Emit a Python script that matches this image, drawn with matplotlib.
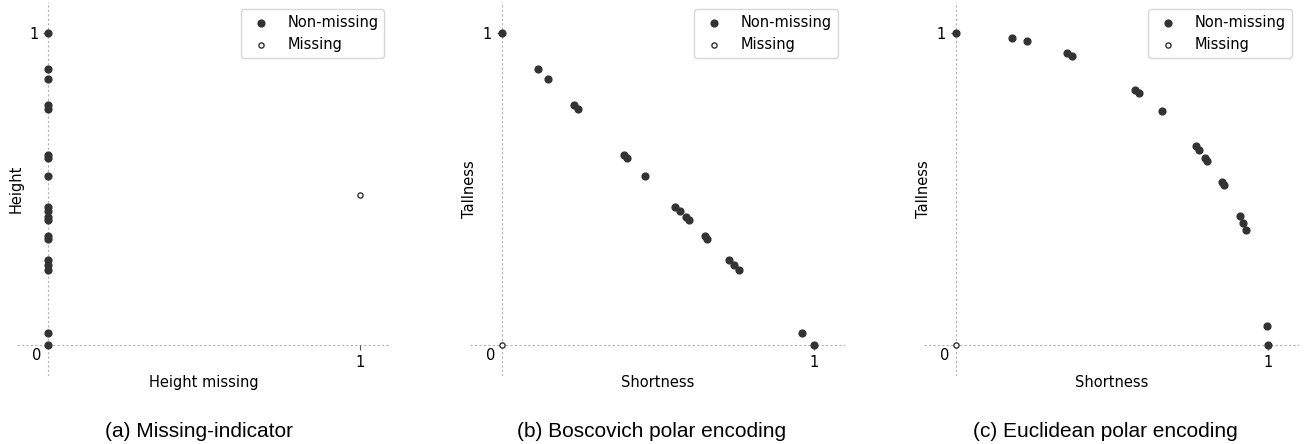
import matplotlib
matplotlib.use("Agg")
import matplotlib.pyplot as plt

# height values (one per person)
height = [1.0, 0.884, 0.852, 0.768, 0.755, 0.608, 0.599, 0.541, 0.443, 0.429,
          0.409, 0.401, 0.349, 0.341, 0.272, 0.256, 0.240, 0.039, 0.0]
height_missing = [0] * len(height)
miss_a = [1.0]
miss_a_h = [0.481]

# Boscovich polar encoding
bosc_short = [0.0, 0.116, 0.148, 0.232, 0.245, 0.392, 0.401, 0.459, 0.557, 0.571,
              0.591, 0.599, 0.651, 0.659, 0.728, 0.744, 0.760, 0.961, 1.0]
bosc_tall = [1.0, 0.884, 0.852, 0.768, 0.755, 0.608, 0.599, 0.541, 0.443, 0.429,
             0.409, 0.401, 0.349, 0.341, 0.272, 0.256, 0.240, 0.039, 0.0]

# Euclidean polar encoding
eucl_short = [0.0, 0.181, 0.230, 0.356, 0.374, 0.576, 0.588, 0.661, 0.769, 0.781,
              0.800, 0.807, 0.853, 0.859, 0.910, 0.921, 0.931, 0.998, 1.0]
eucl_tall = [1.0, 0.984, 0.973, 0.935, 0.927, 0.816, 0.809, 0.750, 0.639, 0.624,
             0.599, 0.590, 0.521, 0.513, 0.414, 0.392, 0.369, 0.061, 0.0]

miss_bc = [0.0]  # missing rows sit at the origin in (b) and (c)

panels = [
    (height_missing, height, miss_a, miss_a_h, 'Height missing', 'Height', '(a) Missing-indicator'),
    (bosc_short, bosc_tall, miss_bc, miss_bc, 'Shortness', 'Tallness', '(b) Boscovich polar encoding'),
    (eucl_short, eucl_tall, miss_bc, miss_bc, 'Shortness', 'Tallness', '(c) Euclidean polar encoding'),
]

plt.rcParams['font.family'] = 'DejaVu Sans'
plt.rcParams['font.size'] = 10.5
dot_color = '#333333'

fig = plt.figure(figsize=(13.08, 4.44), dpi=100)
lefts = [0.01307, 0.3597, 0.7068]
cap_x = [0.1518, 0.4985, 0.8452]

for i, (xs, ys, mx, my, xl, yl, cap) in enumerate(panels):
    ax = fig.add_axes([lefts[i], 0.1527, 0.28624, 0.8432])
    ax.axhline(0, color='#b0b0b0', lw=0.8, ls=(0, (2, 2)), zorder=0)
    ax.axvline(0, color='#b0b0b0', lw=0.8, ls=(0, (2, 2)), zorder=0)
    ax.scatter(xs, ys, s=24, color=dot_color, label='Non-missing', zorder=3)
    ax.scatter(mx, my, s=14, facecolor='white', edgecolor=dot_color, linewidth=1.0,
               label='Missing', zorder=4)
    ax.set_xlim(-0.1, 1.1)
    ax.set_ylim(-0.1, 1.1)
    for side in ['top', 'right']:
        ax.spines[side].set_visible(False)
    ax.spines['left'].set_position(('data', 0))
    ax.spines['bottom'].set_position(('data', 0))
    ax.spines['left'].set_color('none')
    ax.spines['bottom'].set_color('none')
    ax.set_xticks([1])
    ax.set_yticks([1])
    ax.tick_params(color='#555555', length=3.5)
    ax.annotate('0', xy=(0, 0), xytext=(-8, -7.5), textcoords='offset points',
                ha='center', va='center')
    ax.set_xlabel(xl)
    ax.set_ylabel(yl)
    ax.legend(loc='upper right')
    fig.text(cap_x[i], 0.028, cap, ha='center', va='center', fontsize=15,
             family=['Liberation Sans', 'DejaVu Sans'])

fig.savefig('out.png', dpi=100)
